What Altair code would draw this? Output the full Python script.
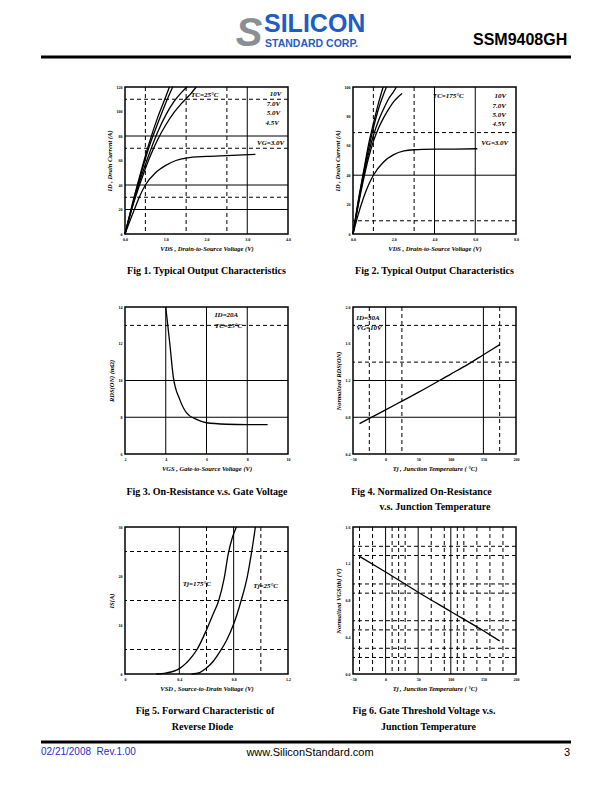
import altair as alt
import pandas as pd

SERIF = "Liberation Serif"
SANS = "Liberation Sans"
W, H = 163, 147

# ---------------- data ----------------
# Fig 1: Tc = 25 C, VDS (V) -> ID (A)
f1_10v_x = [0, 0.2, 0.4, 0.6, 0.8, 1.0, 1.09]
f1_10v_y = [0, 27, 52, 75, 95, 112, 120]
f1_7v_x = [0, 0.2, 0.4, 0.6, 0.8, 1.0, 1.17]
f1_7v_y = [0, 26, 50, 72, 90, 107, 120]
f1_5v_x = [0, 0.2, 0.4, 0.6, 0.8, 1.0, 1.2, 1.4, 1.52]
f1_5v_y = [0, 25, 47, 66, 83, 97, 108, 116, 120]
f1_45v_x = [0, 0.2, 0.4, 0.6, 0.8, 1.0, 1.2, 1.4, 1.6, 1.75]
f1_45v_y = [0, 24, 44, 62, 77, 89, 99, 107, 114, 120]
f1_3v_x = [0, 0.1, 0.23, 0.35, 0.5, 0.75, 1.0, 1.25, 1.5, 2.0, 2.5, 3.2]
f1_3v_y = [0, 9, 20, 30, 40, 50, 56, 60, 62, 63.3, 64, 65]
f1_xticks = [0, 1, 2, 3, 4]
f1_yticks = [0, 20, 40, 60, 80, 100, 120]
f1_hsolid = [20, 40, 80]
f1_hdash = [30, 70, 110]
f1_vsolid = [3.0]
f1_vdash = [0.5, 1.5, 2.5]

# Fig 2: Tc = 175 C
f2_10v_x = [0, 0.25, 0.5, 0.75, 1.0, 1.25, 1.48]
f2_10v_y = [0, 22, 41, 60, 75, 89, 100]
f2_7v_x = [0, 0.25, 0.5, 0.75, 1.0, 1.25, 1.5, 1.64]
f2_7v_y = [0, 21, 40, 57, 72, 85, 95, 100]
f2_5v_x = [0, 0.25, 0.5, 0.75, 1.0, 1.25, 1.5, 1.75, 2.0, 2.13]
f2_5v_y = [0, 20, 38, 54, 67, 77, 85, 92, 97, 100]
f2_45v_x = [0, 0.25, 0.5, 0.75, 1.0, 1.25, 1.5, 1.75, 2.0, 2.2, 2.41]
f2_45v_y = [0, 19, 36, 51, 63, 72, 79, 85, 90, 93, 95.5]
f2_3v_x = [0, 0.25, 0.5, 0.75, 1.0, 1.5, 2.0, 2.5, 3.0, 4.0, 5.0, 6.1]
f2_3v_y = [0, 13, 24, 33, 40, 49, 54, 56.5, 57.3, 57.7, 57.8, 58]
f2_xticks = [0, 2, 4, 6, 8]
f2_yticks = [0, 20, 40, 60, 80, 100]
f2_hsolid = [40]
f2_hdash = [9, 69]
f2_vsolid = [4.0, 6.0]
f2_vdash = [1.0, 3.0]

# Fig 3: RDS(on) vs VGS
f3_x = [4.0, 4.2, 4.37, 4.69, 5.02, 5.51, 6.0, 7.0, 8.0, 9.0]
f3_y = [14.0, 12.0, 10.2, 8.96, 8.24, 7.88, 7.7, 7.62, 7.6, 7.6]
f3_xticks = [2, 4, 6, 8, 10]
f3_yticks = [6, 8, 10, 12, 14]
f3_hsolid = [8, 10]
f3_hdash = [13]
f3_vsolid = [4, 6, 8]
f3_vdash = []

# Fig 4: normalized RDS(on) vs Tj
f4_x = [-40, 0, 25, 50, 100, 125, 150, 175]
f4_y = [0.73, 0.88, 0.975, 1.07, 1.27, 1.37, 1.48, 1.59]
f4_xticks = [-50, 0, 50, 100, 150, 200]
f4_yticks = [0.4, 0.8, 1.2, 1.6, 2.0]
f4_hsolid = [0.8, 1.2]
f4_hdash = [1.4, 1.8]
f4_vsolid = [0, 150]
f4_vdash = [-25, 25, 175]

# Fig 5: forward characteristic of reverse diode
f5_175_x = [0.23, 0.3, 0.4, 0.5, 0.53, 0.6, 0.65, 0.69, 0.73, 0.76, 0.79, 0.82]
f5_175_y = [0, 0.2, 1.1, 3.8, 5, 9, 12.3, 15, 19.5, 24.5, 27.8, 30]
f5_25_x = [0.49, 0.55, 0.6, 0.65, 0.7, 0.75, 0.8, 0.85, 0.9, 0.93, 0.96]
f5_25_y = [0, 0.3, 1.2, 2.6, 4.6, 7.0, 10.2, 14.5, 19.8, 24.5, 30]
f5_xticks = [0, 0.4, 0.8, 1.2]
f5_yticks = [0, 10, 20, 30]
f5_hsolid = []
f5_hdash = [5, 15, 25]
f5_vsolid = [0.4, 0.8]
f5_vdash = [0.6, 1.0]

# Fig 6: normalized VGS(th) vs Tj
f6_x = [-40, 0, 50, 100, 150, 175]
f6_y = [1.28, 1.11, 0.89, 0.68, 0.47, 0.36]
f6_xticks = [-50, 0, 50, 100, 150, 200]
f6_yticks = [0.0, 0.4, 0.8, 1.2, 1.6]
f6_hsolid = []
f6_hdash = [0.18, 0.28, 0.48, 0.58, 0.88, 0.98, 1.29, 1.39]
f6_vsolid = [0, 50, 100]
f6_vdash = [-40, -20, 10, 20, 30, 70, 90, 110, 120, 140, 160, 180]

one = pd.DataFrame({"k": [0]})


def curves_df(series):
    rows = []
    for name, xs, ys in series:
        for a, b in zip(xs, ys):
            rows.append({"s": name, "x": a, "y": b})
    return pd.DataFrame(rows)


def txt(t, x, y, size=7, font=SERIF, weight="bold", style="italic", align="left",
        color="black", baseline="middle"):
    return alt.Chart(one).mark_text(
        align=align, baseline=baseline, font=font, fontWeight=weight,
        fontStyle=style, fontSize=size, color=color
    ).encode(x=alt.value(x), y=alt.value(y), text=alt.value(t))


def panel(series, xdom, ydom, xticks, yticks, xfmt, yfmt, xtitle, ytitle,
          hsolid, hdash, vsolid, vdash, notes, captions, extra=()):
    xs = alt.Scale(domain=xdom, nice=False, zero=False)
    ys = alt.Scale(domain=ydom, nice=False, zero=False)
    xax = alt.Axis(values=xticks, format=xfmt, title=xtitle)
    yax = alt.Axis(values=yticks, format=yfmt, title=ytitle)
    layers = []
    for vals, dash in ((hsolid, None), (hdash, [4, 3])):
        if vals:
            kw = dict(color="black", strokeWidth=1)
            if dash:
                kw["strokeDash"] = dash
            layers.append(alt.Chart(pd.DataFrame({"v": vals})).mark_rule(**kw).encode(
                y=alt.Y("v:Q", scale=ys, axis=yax)))
    for vals, dash in ((vsolid, None), (vdash, [4, 3])):
        if vals:
            kw = dict(color="black", strokeWidth=1)
            if dash:
                kw["strokeDash"] = dash
            layers.append(alt.Chart(pd.DataFrame({"v": vals})).mark_rule(**kw).encode(
                x=alt.X("v:Q", scale=xs, axis=xax)))
    layers.append(
        alt.Chart(curves_df(series)).mark_line(
            color="black", strokeWidth=1.3, interpolate="monotone"
        ).encode(
            x=alt.X("x:Q", scale=xs, axis=xax),
            y=alt.Y("y:Q", scale=ys, axis=yax),
            detail="s:N",
        )
    )
    for (t, xv, yv) in notes:
        layers.append(
            alt.Chart(one).mark_text(
                align="left", baseline="middle", font=SERIF, fontWeight="bold",
                fontStyle="italic", fontSize=7, color="black"
            ).encode(
                x=alt.XDatum(xv, scale=xs, axis=xax),
                y=alt.YDatum(yv, scale=ys, axis=yax),
                text=alt.value(t),
            )
        )
    for (t, cx, cy) in captions:
        layers.append(txt(t, cx, cy, size=10, style="normal", align="center"))
    layers.extend(extra)
    return alt.layer(*layers).properties(width=W, height=H)


# header / footer, positioned relative to the first panel's plot area
header = [
    alt.Chart(one).mark_rule(strokeOpacity=0).encode(
        x=alt.value(-116), x2=alt.value(-116), y=alt.value(-78), y2=alt.value(-76)),
    txt("S", 124, -41, size=40, font=SANS, weight="bold", style="italic",
        align="center", color="#8a8f96", baseline="alphabetic"),
    txt("SILICON", 139, -55, size=25, font=SANS, weight="bold", style="normal",
        color="#1f5cc4", baseline="alphabetic"),
    txt("STANDARD CORP.", 140, -40.5, size=10.5, font=SANS, weight="bold", style="normal",
        color="#1f5cc4", baseline="alphabetic"),
    txt("SSM9408GH", 348, -42, size=16, font=SANS, weight="bold", style="normal",
        baseline="alphabetic"),
    alt.Chart(one).mark_rule(color="black", strokeWidth=3).encode(
        x=alt.value(-84), x2=alt.value(446), y=alt.value(-30)),
    alt.Chart(one).mark_rule(color="black", strokeWidth=3).encode(
        x=alt.value(-84), x2=alt.value(446), y=alt.value(655)),
    txt("02/21/2008\u00a0\u00a0Rev.1.00", -84, 668, size=10, font=SANS, weight="normal",
        style="normal", color="#2b2bd6", baseline="alphabetic"),
    txt("www.SiliconStandard.com", 185, 669, size=11, font=SANS, weight="normal",
        style="normal", align="center", baseline="alphabetic"),
    txt("3", 442, 669, size=11, font=SANS, weight="normal", style="normal",
        align="center", baseline="alphabetic"),
]

p1 = panel(
    [("10V", f1_10v_x, f1_10v_y), ("7V", f1_7v_x, f1_7v_y), ("5V", f1_5v_x, f1_5v_y),
     ("4.5V", f1_45v_x, f1_45v_y), ("3V", f1_3v_x, f1_3v_y)],
    [0, 4], [0, 120], f1_xticks, f1_yticks, ".1f", "d",
    "VDS , Drain-to-Source Voltage (V)", "ID , Drain Current (A)",
    f1_hsolid, f1_hdash, f1_vsolid, f1_vdash,
    [("TC=25°C", 1.62, 113.5), ("10V", 3.55, 114.6), ("7.0V", 3.48, 105.8),
     ("5.0V", 3.48, 98.5), ("4.5V", 3.45, 90.8), ("VG=3.0V", 3.24, 74)],
    [("Fig 1. Typical Output Characteristics", 81.5, 184)],
    extra=header,
)
p2 = panel(
    [("10V", f2_10v_x, f2_10v_y), ("7V", f2_7v_x, f2_7v_y), ("5V", f2_5v_x, f2_5v_y),
     ("4.5V", f2_45v_x, f2_45v_y), ("3V", f2_3v_x, f2_3v_y)],
    [0, 8], [0, 100], f2_xticks, f2_yticks, ".1f", "d",
    "VDS , Drain-to-Source Voltage (V)", "ID , Drain Current (A)",
    f2_hsolid, f2_hdash, f2_vsolid, f2_vdash,
    [("TC=175°C", 3.92, 93.9), ("10V", 6.95, 93.9), ("7.0V", 6.85, 87.0),
     ("5.0V", 6.85, 80.7), ("4.5V", 6.85, 74.6), ("VG=3.0V", 6.29, 62)],
    [("Fig 2. Typical Output Characteristics", 81.5, 184)],
)
p3 = panel(
    [("r", f3_x, f3_y)],
    [2, 10], [6, 14], f3_xticks, f3_yticks, "d", "d",
    "VGS , Gate-to-Source Voltage (V)", "RDS(ON) (mΩ)",
    f3_hsolid, f3_hdash, f3_vsolid, f3_vdash,
    [("ID=20A", 6.41, 13.58), ("TC=25°C", 6.41, 12.99)],
    [("Fig 3. On-Resistance v.s. Gate Voltage", 82, 185)],
)
p4 = panel(
    [("r", f4_x, f4_y)],
    [-50, 200], [0.4, 2.0], f4_xticks, f4_yticks, "d", ".1f",
    "Tj , Junction Temperature ( °C)", "Normalized RDS(ON)",
    f4_hsolid, f4_hdash, f4_vsolid, f4_vdash,
    [("ID=30A", -45, 1.875), ("VG=10V", -45, 1.774)],
    [("Fig 4. Normalized On-Resistance", 68.5, 185),
     ("v.s. Junction Temperature", 82, 200)],
)
p5 = panel(
    [("175", f5_175_x, f5_175_y), ("25", f5_25_x, f5_25_y)],
    [0, 1.2], [0, 30], f5_xticks, f5_yticks, ".1~f", "d",
    "VSD , Source-to-Drain Voltage (V)", "IS(A)",
    f5_hsolid, f5_hdash, f5_vsolid, f5_vdash,
    [("Tj=175°C", 0.425, 18.3), ("Tj=25°C", 0.945, 17.9)],
    [("Fig 5. Forward Characteristic of", 80, 184), ("Reverse Diode", 77.5, 200)],
)
p6 = panel(
    [("v", f6_x, f6_y)],
    [-50, 200], [0, 1.6], f6_xticks, f6_yticks, "d", ".1f",
    "Tj , Junction Temperature ( °C)", "Normalized VGS(th) (V)",
    f6_hsolid, f6_hdash, f6_vsolid, f6_vdash,
    [],
    [("Fig 6. Gate Threshold Voltage v.s.", 71, 184), ("Junction Temperature", 75.5, 200)],
)

chart = (
    alt.concat(p1, p2, p3, p4, p5, p6, columns=2,
               spacing={"row": 73, "column": 65}, bounds="flush")
    .properties(padding=0, background="white")
    .configure_view(stroke="black", strokeWidth=1.5)
    .configure_axis(
        labelFont=SERIF, labelFontWeight="bold", labelFontSize=4, labelColor="black",
        labelPadding=3, labelFlush=False, ticks=False, domain=False, grid=False,
        titleFont=SERIF, titleFontWeight="bold", titleFontStyle="italic",
        titleFontSize=6.5, titleColor="black", titlePadding=4,
    )
)

chart.save("out.html", embed_options={"renderer": "svg", "actions": False})
